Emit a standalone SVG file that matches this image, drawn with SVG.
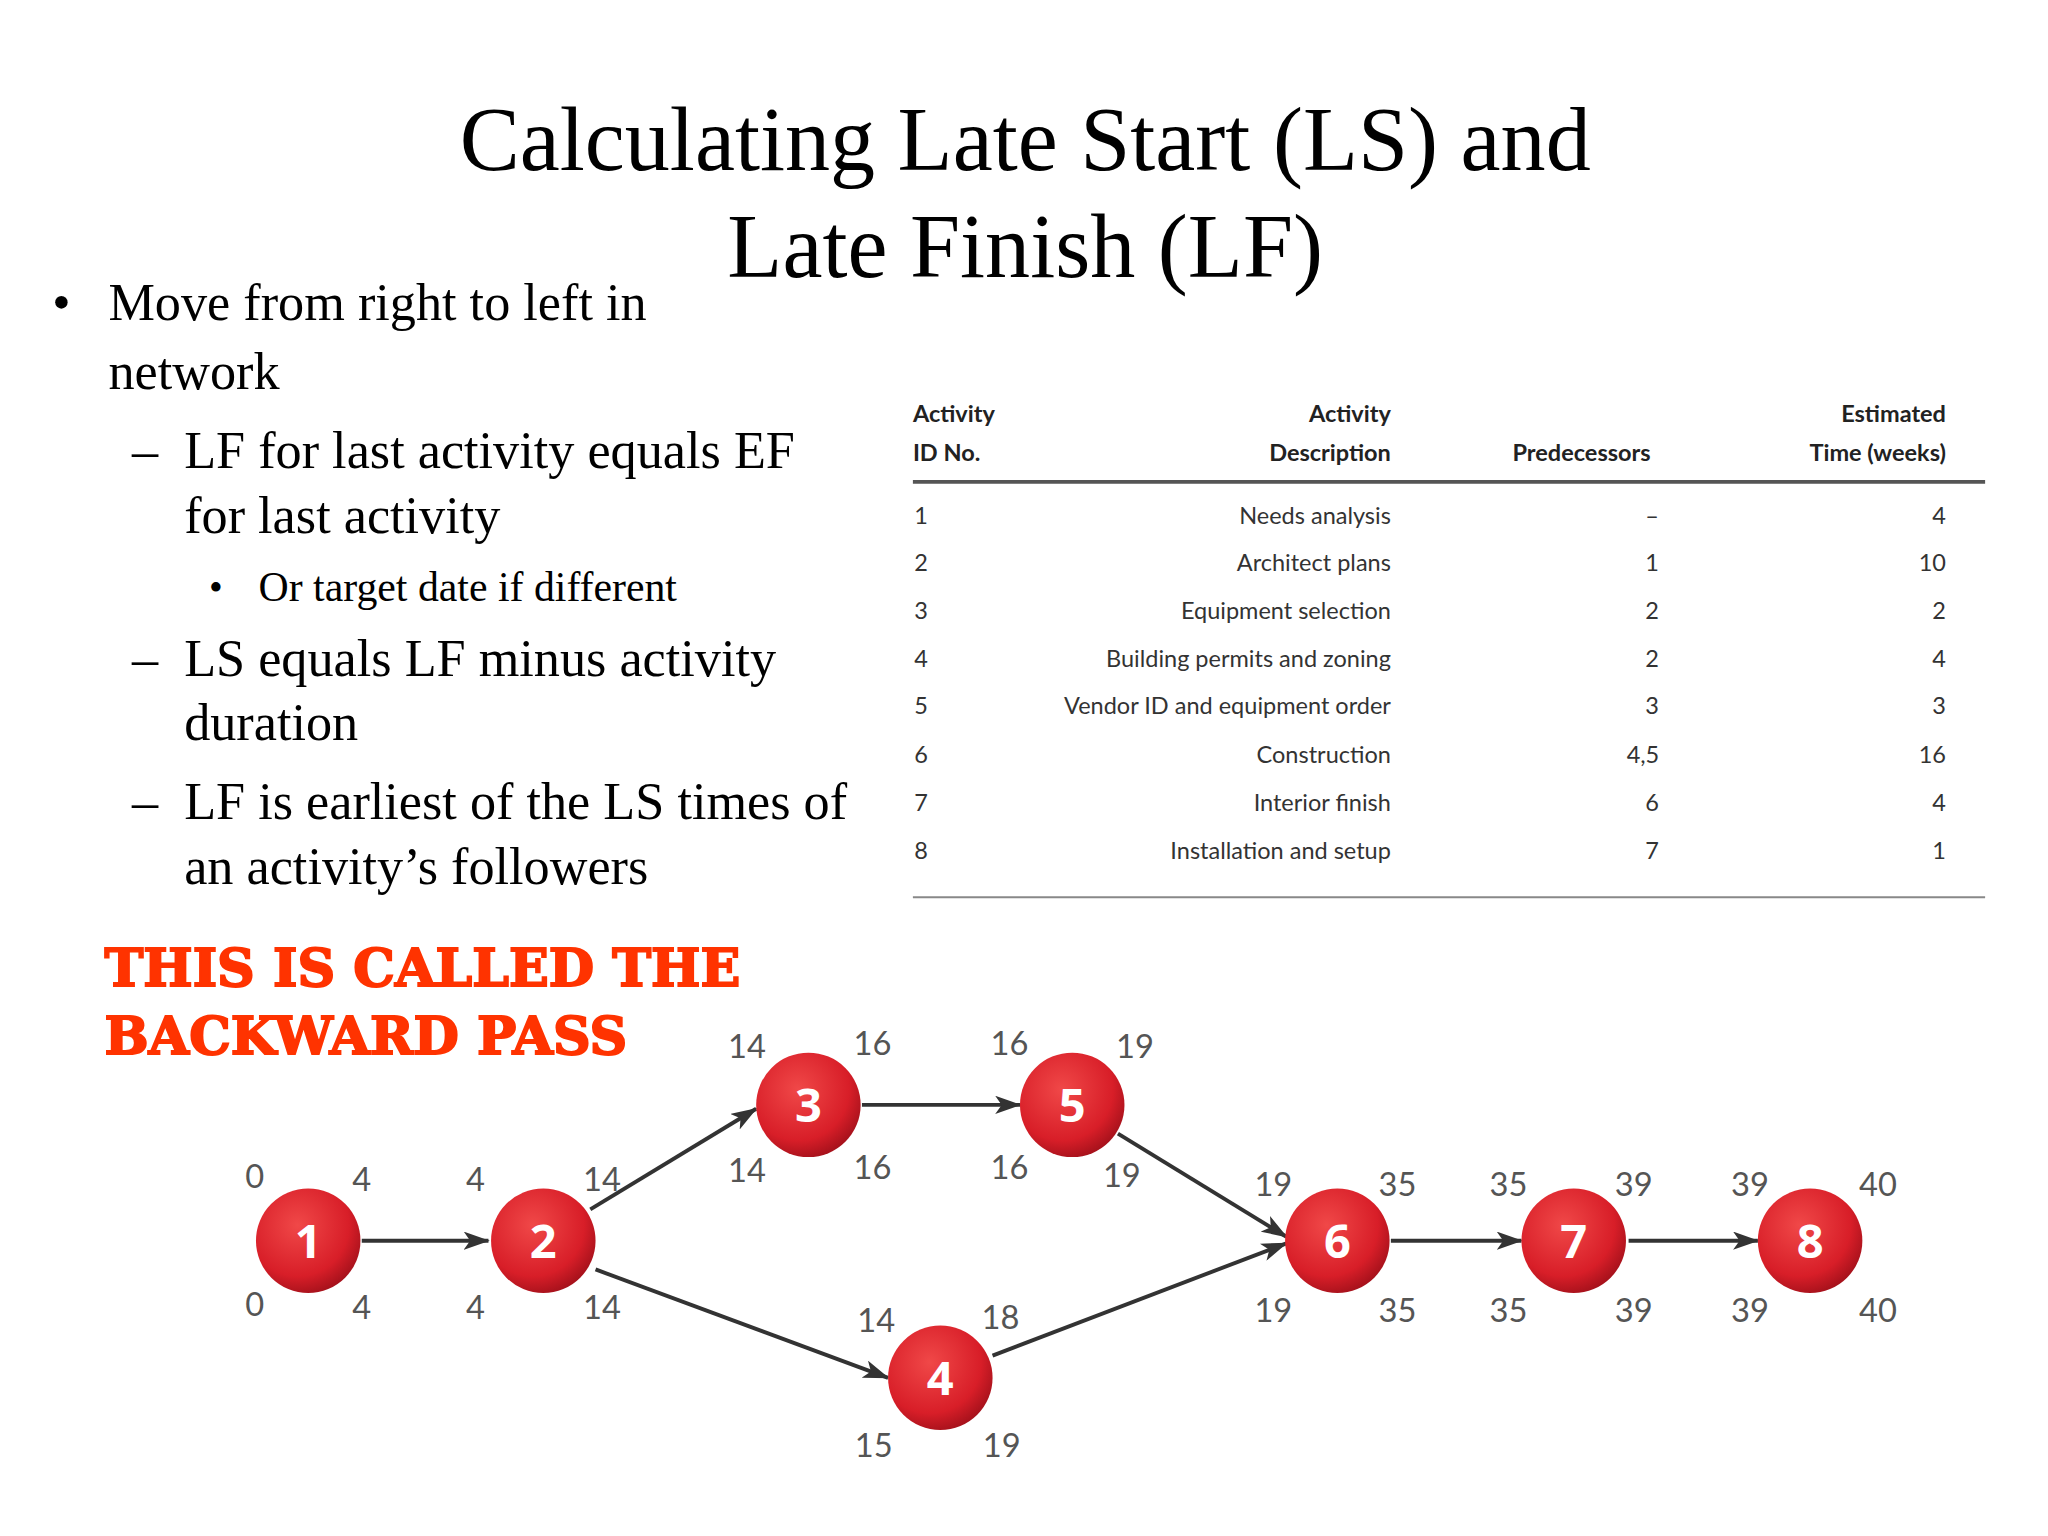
<svg xmlns="http://www.w3.org/2000/svg" width="2048" height="1536" viewBox="0 0 2048 1536">
<defs>
<radialGradient id="rg" cx="0.4" cy="0.35" r="0.7"><stop offset="0" stop-color="#f04848"/><stop offset="0.7" stop-color="#d81e28"/><stop offset="1" stop-color="#a0101a"/></radialGradient>
<marker id="ah" viewBox="0 0 20 14" refX="19" refY="7" markerWidth="20" markerHeight="14" markerUnits="userSpaceOnUse" orient="auto"><path d="M0,0 L20,7 L0,14 L5,7 z" fill="#333"/></marker>
<style>
.t{font-family:"Liberation Serif",serif;fill:#000}
.tb{font-family:Lato,"Open Sans",sans-serif;font-size:18px;font-weight:bold;fill:#222}
.tr{font-family:Lato,"Open Sans",sans-serif;font-size:18px;fill:#333}
.n{font-family:Lato,"Open Sans",sans-serif;font-size:25px;fill:#555;text-anchor:middle}
.nn{font-family:"Open Sans",sans-serif;font-size:36px;font-weight:bold;fill:#fff;text-anchor:middle}
.e{stroke:#333;stroke-width:3;fill:none;marker-end:url(#ah)}
.red{font-family:"DejaVu Serif",serif;font-weight:bold;font-size:40px;fill:#ff3300;stroke:#ff3300;stroke-width:1.5}
</style>
</defs>
<rect width="2048" height="1536" fill="#fff"/>
<g transform="scale(1.306)">
<g id="title" class="t" font-size="69" text-anchor="middle">
<text x="785" y="130">Calculating Late Start (LS) and</text>
<text x="785" y="212">Late Finish (LF)</text>
</g>
<g id="bullets" class="t" font-size="40">
<text x="40" y="245">•</text><text x="83" y="245">Move from right to left in</text>
<text x="83" y="298">network</text>
<text x="101" y="358">–</text><text x="141" y="358">LF for last activity equals EF</text>
<text x="141" y="408">for last activity</text>
<text x="160" y="460" font-size="30">•</text><text x="198" y="460" font-size="32">Or target date if different</text>
<text x="101" y="518">–</text><text x="141" y="518">LS equals LF minus activity</text>
<text x="141" y="567">duration</text>
<text x="101" y="627">–</text><text x="141" y="627">LF is earliest of the LS times of</text>
<text x="141" y="677">an activity’s followers</text>
</g>
<g id="redtext" class="red">
<text x="80" y="755">THIS IS CALLED THE</text>
<text x="80" y="807">BACKWARD PASS</text>
</g>
<g id="table">
<text class="tb" x="699" y="323">Activity</text><text class="tb" x="699" y="353">ID No.</text>
<text class="tb" x="1065" y="323" text-anchor="end">Activity</text><text class="tb" x="1065" y="353" text-anchor="end">Description</text>
<text class="tb" x="1211" y="353" text-anchor="middle">Predecessors</text>
<text class="tb" x="1490" y="323" text-anchor="end">Estimated</text><text class="tb" x="1490" y="353" text-anchor="end">Time (weeks)</text>
<line x1="699" y1="369" x2="1520" y2="369" stroke="#555" stroke-width="3"/>
<line x1="699" y1="687" x2="1520" y2="687" stroke="#888" stroke-width="1.5"/>
<g class="tr">
<text x="700" y="401">1</text><text x="1065" y="401" text-anchor="end">Needs analysis</text><text x="1265" y="401" text-anchor="middle">–</text><text x="1490" y="401" text-anchor="end">4</text>
<text x="700" y="437">2</text><text x="1065" y="437" text-anchor="end">Architect plans</text><text x="1265" y="437" text-anchor="middle">1</text><text x="1490" y="437" text-anchor="end">10</text>
<text x="700" y="474">3</text><text x="1065" y="474" text-anchor="end">Equipment selection</text><text x="1265" y="474" text-anchor="middle">2</text><text x="1490" y="474" text-anchor="end">2</text>
<text x="700" y="511">4</text><text x="1065" y="511" text-anchor="end">Building permits and zoning</text><text x="1265" y="511" text-anchor="middle">2</text><text x="1490" y="511" text-anchor="end">4</text>
<text x="700" y="547">5</text><text x="1065" y="547" text-anchor="end">Vendor ID and equipment order</text><text x="1265" y="547" text-anchor="middle">3</text><text x="1490" y="547" text-anchor="end">3</text>
<text x="700" y="584">6</text><text x="1065" y="584" text-anchor="end">Construction</text><text x="1258" y="584" text-anchor="middle">4,5</text><text x="1490" y="584" text-anchor="end">16</text>
<text x="700" y="621">7</text><text x="1065" y="621" text-anchor="end">Interior finish</text><text x="1265" y="621" text-anchor="middle">6</text><text x="1490" y="621" text-anchor="end">4</text>
<text x="700" y="658">8</text><text x="1065" y="658" text-anchor="end">Installation and setup</text><text x="1265" y="658" text-anchor="middle">7</text><text x="1490" y="658" text-anchor="end">1</text>
</g>
</g>
<g id="connectors">
<line class="e" x1="277" y1="950" x2="374" y2="950"/>
<line class="e" x1="452" y1="926" x2="579" y2="849"/>
<line class="e" x1="660" y1="846" x2="781" y2="846"/>
<line class="e" x1="456" y1="972" x2="680" y2="1055"/>
<line class="e" x1="856" y1="868" x2="985" y2="947"/>
<line class="e" x1="760" y1="1038" x2="985" y2="952"/>
<line class="e" x1="1065" y1="950" x2="1165" y2="950"/>
<line class="e" x1="1247" y1="950" x2="1346" y2="950"/>
</g>
<g id="node1"><circle cx="236" cy="950" r="40" fill="url(#rg)"/><text class="nn" x="236" y="963">1</text>
<text class="n" x="195" y="910">0</text><text class="n" x="277" y="912">4</text><text class="n" x="195" y="1008">0</text><text class="n" x="277" y="1010">4</text></g>
<g id="node2"><circle cx="416" cy="950" r="40" fill="url(#rg)"/><text class="nn" x="416" y="963">2</text>
<text class="n" x="364" y="912">4</text><text class="n" x="461" y="912">14</text><text class="n" x="364" y="1010">4</text><text class="n" x="461" y="1010">14</text></g>
<g id="node3"><circle cx="619" cy="846" r="40" fill="url(#rg)"/><text class="nn" x="619" y="859">3</text>
<text class="n" x="572" y="810">14</text><text class="n" x="668" y="808">16</text><text class="n" x="572" y="905">14</text><text class="n" x="668" y="903">16</text></g>
<g id="node5"><circle cx="821" cy="846" r="40" fill="url(#rg)"/><text class="nn" x="821" y="859">5</text>
<text class="n" x="773" y="808">16</text><text class="n" x="869" y="810">19</text><text class="n" x="773" y="903">16</text><text class="n" x="859" y="909">19</text></g>
<g id="node4"><circle cx="720" cy="1055" r="40" fill="url(#rg)"/><text class="nn" x="720" y="1068">4</text>
<text class="n" x="671" y="1020">14</text><text class="n" x="766" y="1018">18</text><text class="n" x="669" y="1116">15</text><text class="n" x="767" y="1116">19</text></g>
<g id="node6"><circle cx="1024" cy="950" r="40" fill="url(#rg)"/><text class="nn" x="1024" y="963">6</text>
<text class="n" x="975" y="916">19</text><text class="n" x="1070" y="916">35</text><text class="n" x="975" y="1012">19</text><text class="n" x="1070" y="1012">35</text></g>
<g id="node7"><circle cx="1205" cy="950" r="40" fill="url(#rg)"/><text class="nn" x="1205" y="963">7</text>
<text class="n" x="1155" y="916">35</text><text class="n" x="1251" y="916">39</text><text class="n" x="1155" y="1012">35</text><text class="n" x="1251" y="1012">39</text></g>
<g id="node8"><circle cx="1386" cy="950" r="40" fill="url(#rg)"/><text class="nn" x="1386" y="963">8</text>
<text class="n" x="1340" y="916">39</text><text class="n" x="1438" y="916">40</text><text class="n" x="1340" y="1012">39</text><text class="n" x="1438" y="1012">40</text></g>
</g>
</svg>
